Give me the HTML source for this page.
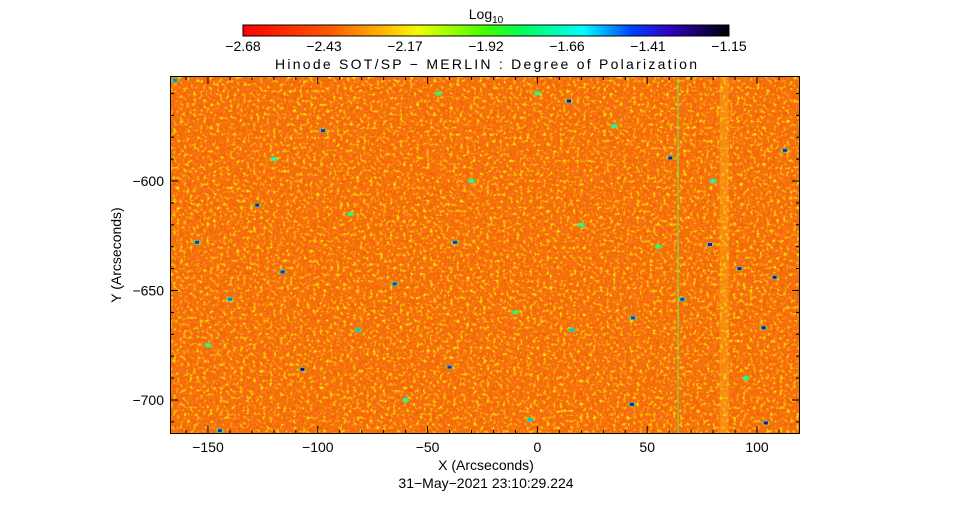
<!DOCTYPE html>
<html><head><meta charset="utf-8"><style>
body{margin:0;background:#fff;}
text{font-family:"Liberation Sans",sans-serif;font-size:14px;fill:#000;}
</style></head><body>
<svg id="chart" width="970" height="512" viewBox="0 0 970 512" xmlns="http://www.w3.org/2000/svg">
<defs>
<linearGradient id="cbar" x1="0" x2="1" y1="0" y2="0">
<stop offset="0" stop-color="#ff0000"/><stop offset="0.18" stop-color="#ff5a00"/>
<stop offset="0.3" stop-color="#ffc000"/><stop offset="0.36" stop-color="#f0ff00"/>
<stop offset="0.5" stop-color="#40ff00"/><stop offset="0.58" stop-color="#00ff60"/>
<stop offset="0.7" stop-color="#00ffff"/><stop offset="0.8" stop-color="#0040ff"/>
<stop offset="0.88" stop-color="#3000c0"/><stop offset="1" stop-color="#000000"/>
</linearGradient>
<filter id="noiseY" x="0" y="0" width="1" height="1">
<feTurbulence type="fractalNoise" baseFrequency="0.3" numOctaves="2" seed="3"/>
<feColorMatrix type="matrix" values="0 0 0 0 1  0 0 0 0 0.82  0 0 0 0 0  3.5 0 0 0 -1.85"/>
</filter>
<filter id="noiseR" x="0" y="0" width="1" height="1">
<feTurbulence type="fractalNoise" baseFrequency="0.25" numOctaves="2" seed="11"/>
<feColorMatrix type="matrix" values="0 0 0 0 0.95  0 0 0 0 0.12  0 0 0 0 0  3 0 0 0 -1.3"/>
</filter>
<filter id="noiseG" x="0" y="0" width="1" height="1">
<feTurbulence type="fractalNoise" baseFrequency="0.4" numOctaves="1" seed="27"/>
<feColorMatrix type="matrix" values="0 0 0 0 0.5  0 0 0 0 1  0 0 0 0 0  6 0 0 0 -4.6"/>
</filter>
<clipPath id="plotclip"><rect x="170" y="76" width="630" height="358"/></clipPath>
</defs>
<text x="486" y="19" text-anchor="middle">Log<tspan font-size="10" dy="4">10</tspan></text>
<rect x="243" y="25" width="486" height="11" fill="url(#cbar)" stroke="#000" stroke-width="1"/>
<g id="cbticks"></g>
<text x="486" y="69" text-anchor="middle" font-size="16.5" textLength="422">Hinode SOT/SP − MERLIN : Degree of Polarization</text>
<g clip-path="url(#plotclip)">
<rect x="170" y="76" width="630" height="358" fill="#f47012"/>
<rect x="170" y="76" width="630" height="358" filter="url(#noiseR)"/>
<rect x="170" y="76" width="630" height="358" filter="url(#noiseY)"/>
<rect x="170" y="76" width="630" height="358" filter="url(#noiseG)"/>
<g id="features"></g>
</g>
<rect x="170.5" y="76.5" width="629" height="357" fill="none" stroke="#000"/>
<g id="axes"></g>
<text x="486" y="470" text-anchor="middle">X (Arcseconds)</text>
<text x="486" y="488" text-anchor="middle">31−May−2021 23:10:29.224</text>
<text transform="translate(121,255) rotate(-90)" text-anchor="middle">Y (Arcseconds)</text>
</svg>
<script>
const cbLabels=["−2.68","−2.43","−2.17","−1.92","−1.66","−1.41","−1.15"];
const xTicks=[-150,-100,-50,0,50,100];
const yTicks=[-600,-650,-700];
// features: x, y (arcsec), log10 value
const featX=[14.4,78.6,92,-107,104,43,60.5,103,-127.6,-97.6,-37.5,-116,-155,-40,108,66,43.5,-65,-165,-144.6,-81.6,-3.4,15.7,112.7,-140,-30,20,-60,-120,80,-10,35,-85,-150,95,55,0,-45];
const featY=[-563.5,-629,-640,-686,-710.5,-702,-589.5,-667,-611,-577,-628,-641.5,-628,-685,-644,-654,-662.5,-647,-554,-714,-668,-709,-668,-586,-654,-600,-620,-700,-590,-600,-660,-575,-615,-675,-690,-630,-560,-560];
const featV=[-1.45,-1.45,-1.5,-1.4,-1.45,-1.5,-1.5,-1.5,-1.55,-1.6,-1.6,-1.6,-1.65,-1.6,-1.5,-1.7,-1.7,-1.7,-1.75,-1.6,-1.8,-1.8,-1.8,-1.6,-1.75,-1.9,-1.9,-1.9,-1.9,-1.85,-1.95,-1.9,-1.95,-1.9,-1.9,-1.95,-1.95,-1.95];
const NS="http://www.w3.org/2000/svg";
const xs=v=>537.4+2.196*v;
const ys=v=>181+(-600-v)*2.19;
const cmapStops=[[-2.68,[255,0,0]],[-2.40,[255,192,0]],[-2.30,[240,255,0]],[-2.10,[64,255,0]],[-1.85,[0,255,255]],[-1.70,[0,64,255]],[-1.45,[48,0,192]],[-1.15,[0,0,0]]];
function cmap(v){for(let i=1;i<cmapStops.length;i++){const [a,ca]=cmapStops[i-1],[b,cb]=cmapStops[i];if(v<=b){const t=Math.max(0,(v-a)/(b-a));return`rgb(${ca.map((c,k)=>Math.round(c+(cb[k]-c)*t)).join(",")})`;}}return"#000";}
function mk(tag,attrs,parent){const e=document.createElementNS(NS,tag);for(const k in attrs)e.setAttribute(k,attrs[k]);parent.appendChild(e);return e;}
const cb=document.getElementById("cbticks");
cbLabels.forEach((l,i)=>{const t=mk("text",{x:243+i*81,y:51,"text-anchor":"middle"},cb);t.textContent=l;

});
const f=document.getElementById("features");
const s1=mk("rect",{x:xs(64)-1,y:76,width:2,height:358,fill:"#7ce040",opacity:0.6},f);


const s2=mk("rect",{x:xs(83),y:76,width:9,height:358,fill:"#ffd020",opacity:0.3},f);


featX.forEach((x,i)=>{const cx=xs(x),cy=ys(featY[i]);
const h=mk("ellipse",{cx:cx,cy:cy,rx:4.5,ry:2.5,fill:"#50f040",opacity:0.6},f);


const c=mk("rect",{x:cx-2,y:cy-1.5,width:4,height:3,fill:cmap(featV[i])},f);

});
const ax=document.getElementById("axes");
for(let v=-160;v<=110;v+=10){const px=xs(v);const L=v%50===0?8:4;
mk("line",{x1:px,x2:px,y1:434,y2:434-L,stroke:"#000"},ax);
mk("line",{x1:px,x2:px,y1:76,y2:76+L,stroke:"#000"},ax);}
for(let v=-560;v>=-710;v-=10){const py=ys(v);const L=v%50===0?8:4;
mk("line",{x1:170,x2:170+L,y1:py,y2:py,stroke:"#000"},ax);
mk("line",{x1:800,x2:800-L,y1:py,y2:py,stroke:"#000"},ax);}
xTicks.forEach(v=>{const t=mk("text",{x:xs(v),y:452,"text-anchor":"middle"},ax);t.textContent=v<0?"−"+(-v):v;

});
yTicks.forEach(v=>{const t=mk("text",{x:164,y:ys(v)+5,"text-anchor":"end"},ax);t.textContent="−"+(-v);

});
</script>
</body></html>
